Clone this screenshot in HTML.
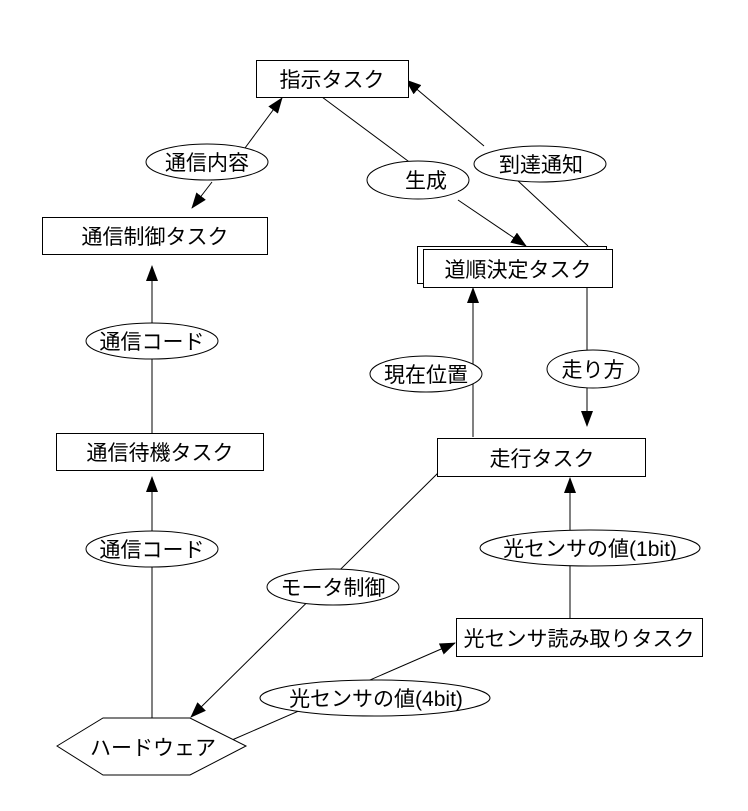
<!DOCTYPE html>
<html><head><meta charset="utf-8"><style>
body{margin:0;background:#fff}
svg text{font-family:"Liberation Sans","Noto Sans CJK JP",sans-serif;font-size:21px;fill:#000}
</style></head><body>
<svg width="748" height="806" viewBox="0 0 748 806" xmlns="http://www.w3.org/2000/svg">
<defs><marker id="a" markerWidth="16" markerHeight="12" refX="15" refY="6" orient="auto" markerUnits="userSpaceOnUse"><path d="M0,0 L16,6 L0,12 z" fill="#000"/></marker></defs>
<g stroke="#000" stroke-width="1" fill="none">
<line x1="245" y1="148" x2="282" y2="98" marker-end="url(#a)"/>
<line x1="212" y1="182" x2="192" y2="208" marker-end="url(#a)"/>
<line x1="322" y1="97" x2="412" y2="164"/>
<line x1="458" y1="200" x2="526" y2="246" marker-end="url(#a)"/>
<line x1="588" y1="246" x2="517" y2="180"/>
<line x1="484" y1="146" x2="406" y2="80" marker-end="url(#a)"/>
<line x1="152" y1="323" x2="152" y2="266" marker-end="url(#a)"/>
<line x1="152" y1="433" x2="152" y2="359"/>
<line x1="473" y1="437" x2="473" y2="288" marker-end="url(#a)"/>
<line x1="587" y1="287" x2="587" y2="426" marker-end="url(#a)"/>
<line x1="152" y1="718" x2="152" y2="477" marker-end="url(#a)"/>
<line x1="570" y1="618" x2="570" y2="478" marker-end="url(#a)"/>
<line x1="438" y1="473" x2="191" y2="717" marker-end="url(#a)"/>
<line x1="232" y1="740" x2="455" y2="643" marker-end="url(#a)"/>
</g>
<g stroke="#000" stroke-width="1" fill="#fff">
<rect x="256.5" y="60.5" width="152" height="37"/>
<rect x="42.5" y="217.5" width="225" height="37"/>
<rect x="417.5" y="246.5" width="189" height="37"/>
<rect x="423.5" y="249.5" width="189" height="38"/>
<rect x="56.5" y="433.5" width="207" height="37"/>
<rect x="437.5" y="438.5" width="208" height="38"/>
<rect x="456.5" y="618.5" width="246" height="38"/>
<polygon points="57,746 103,718 190,718 246,746 190,775 103,775"/>
<ellipse cx="207" cy="162" rx="61" ry="18"/>
<ellipse cx="418" cy="180" rx="51" ry="19"/>
<ellipse cx="540" cy="164" rx="66" ry="18"/>
<ellipse cx="152" cy="341" rx="66" ry="18"/>
<ellipse cx="426" cy="374" rx="56" ry="18"/>
<ellipse cx="593" cy="369" rx="46" ry="19"/>
<ellipse cx="152" cy="549" rx="66" ry="18"/>
<ellipse cx="590" cy="548" rx="110" ry="18"/>
<ellipse cx="333" cy="587" rx="66" ry="18"/>
<ellipse cx="375" cy="698" rx="115" ry="18"/>
</g>
<g text-anchor="middle">
<text x="332" y="87">指示タスク</text>
<text x="155" y="244">通信制御タスク</text>
<text x="518" y="277">道順決定タスク</text>
<text x="160" y="460">通信待機タスク</text>
<text x="542" y="466">走行タスク</text>
<text x="579" y="646">光センサ読み取りタスク</text>
<text x="153" y="755">ハードウェア</text>
<text x="207" y="170">通信内容</text>
<text x="426" y="188">生成</text>
<text x="541" y="172">到達通知</text>
<text x="152" y="349">通信コード</text>
<text x="426" y="382">現在位置</text>
<text x="593" y="377">走り方</text>
<text x="152" y="557">通信コード</text>
<text x="590" y="556">光センサの値(1bit)</text>
<text x="333" y="595">モータ制御</text>
<text x="376" y="706">光センサの値(4bit)</text>
</g>
</svg>
</body></html>
